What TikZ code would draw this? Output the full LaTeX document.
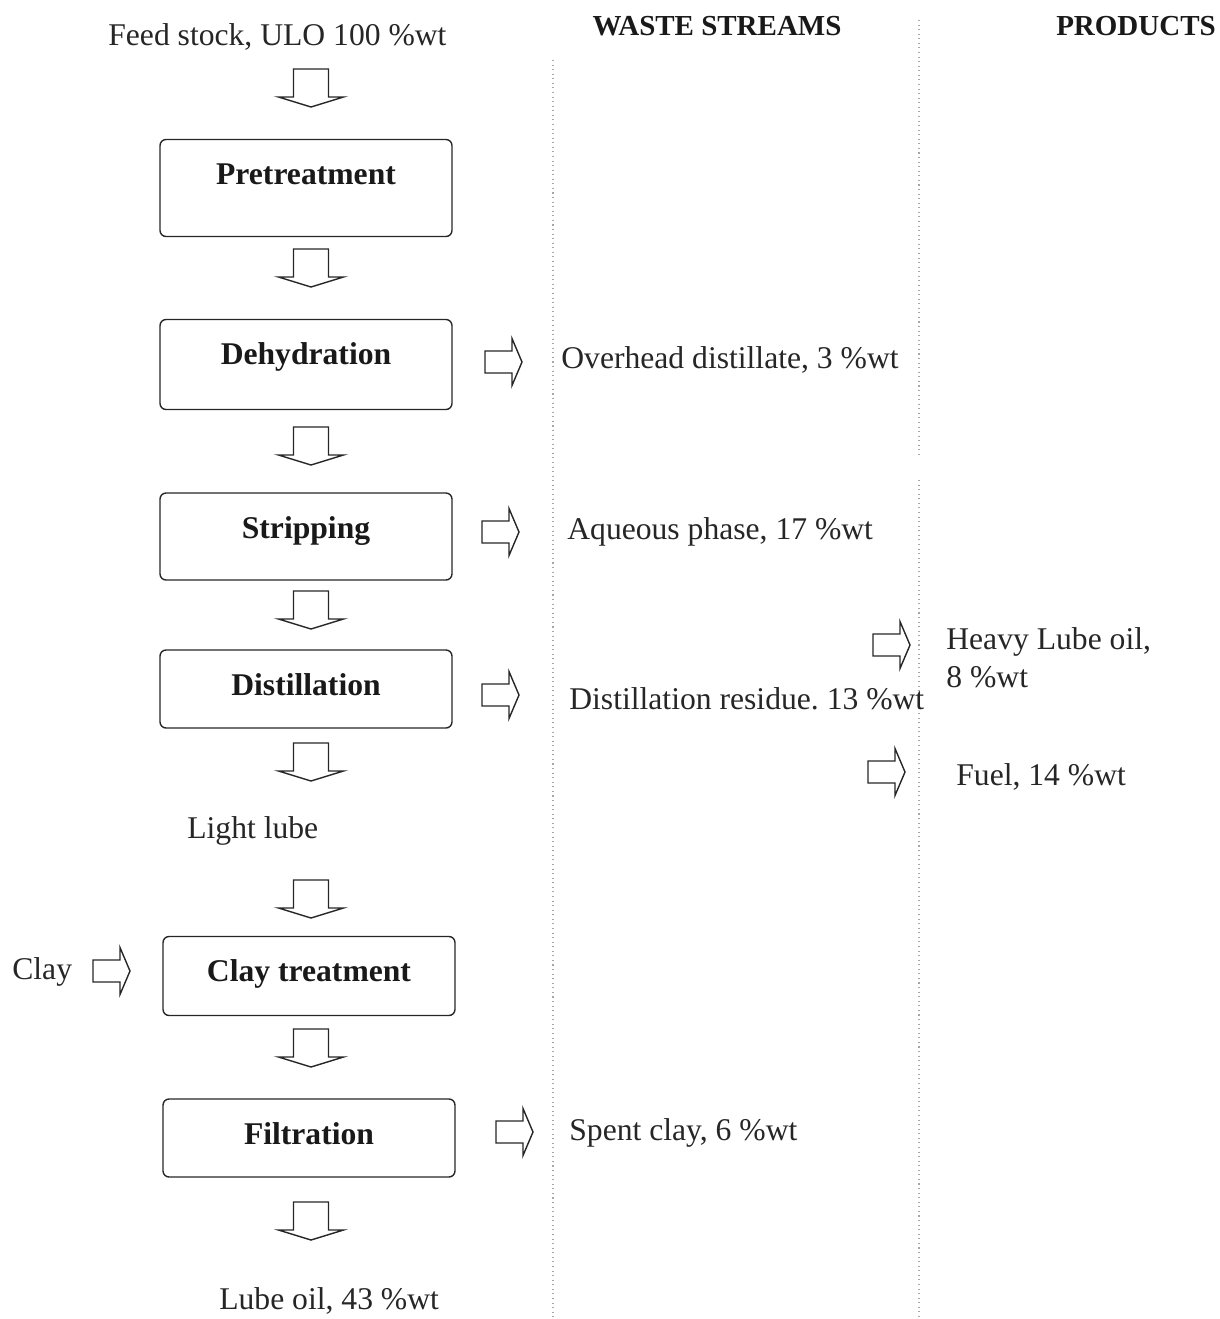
\documentclass[tikz,border=0pt]{standalone}
\usepackage{fontspec}
\setmainfont{Liberation Serif}
\tikzset{
    stage/.style =  {rectangle,
                    rounded corners=0.12cm,
                    draw=black!85,
                    text=black!90,
                    line width=0.8pt,
                    minimum width=5.84cm,
                    inner xsep=0pt,
                    inner ysep=0pt,
                    text height=0.90cm,
                    font=\fontsize{18}{21.6}\selectfont\bfseries},
    stream/.style = {anchor=west,
                    inner sep=0pt,
                    yshift=-0.04cm,
                    align=left,
                    text=black!85,
                    font=\fontsize{18}{21.6}\selectfont},
    header/.style = {inner sep=0pt,
                    text=black!90,
                    font=\fontsize{16.5}{20}\selectfont\bfseries},
    divider/.style = {draw=black!35,
                    dotted,
                    line width=0.6pt},
    downarrow/.pic = {\draw[line width=0.8pt,black!85]
                    (-17.5,0) -- (17.5,0) -- (17.5,28) -- (32.5,28) -- (0,38)
                    -- (-32.5,28) -- (-17.5,28) -- cycle;},
    rightarrow/.pic = {\draw[line width=0.8pt,black!85]
                    (0,-11) -- (27,-11) -- (27,-23.5) -- (37,0) -- (27,23.5)
                    -- (27,11) -- (0,11) -- cycle;}
}

\begin{document}
\begin{tikzpicture}[x=0.02cm,y=-0.02cm]
                \useasboundingbox (0,0) rectangle (1220,1319);

                \draw[divider] (553,60) -- (553,1319);
                \draw[divider] (919,20) -- (919,455);
                \draw[divider] (919,480) -- (919,1319);

                \node[header]       (waste)                                  at (717,26)   {WASTE STREAMS};
                \node[header]       (prod)                                   at (1136,26)  {PRODUCTS};

                \node[stream]       (feed)                                   at (108,35)   {Feed stock, ULO 100 \%wt};
                \node[stage, text depth=1.04cm] (pre)                        at (306,188)  {Pretreatment};
                \node[stage, text depth=0.90cm] (dehy)                       at (306,364.5) {Dehydration};
                \node[stage, text depth=0.84cm] (strip)                      at (306,536.5) {Stripping};
                \node[stage, text depth=0.66cm] (dist)                       at (306,689)  {Distillation};
                \node[stream]       (light)                                  at (187,829)  {Light lube};
                \node[stage, text depth=0.68cm] (claytr)                     at (309,976)  {Clay treatment};
                \node[stage, text depth=0.66cm] (filt)                       at (309,1138) {Filtration};
                \node[stream]       (lube)                                   at (219,1299) {Lube oil, 43 \%wt};

                \node[stream]       (clay)                                   at (12,970)   {Clay};
                \node[stream]       (over)                                   at (561,358)  {Overhead distillate, 3 \%wt};
                \node[stream]       (aq)                                     at (567,530)  {Aqueous phase, 17 \%wt};
                \node[stream]       (resid)                                  at (569,697)  {Distillation residue.\ 13 \%wt};
                \node[stream]       (spent)                                  at (569,1131) {Spent clay, 6 \%wt};
                \node[stream]       (heavy)                                  at (946,656)  {Heavy Lube oil,\\8 \%wt};
                \node[stream]       (fuel)                                   at (956,775)  {Fuel, 14 \%wt};

                \pic at (311,69)   {downarrow};
                \pic at (311,249)  {downarrow};
                \pic at (311,427)  {downarrow};
                \pic at (311,591)  {downarrow};
                \pic at (311,743)  {downarrow};
                \pic at (311,880)  {downarrow};
                \pic at (311,1029) {downarrow};
                \pic at (311,1202) {downarrow};

                \pic at (485,362)  {rightarrow};
                \pic at (482,532)  {rightarrow};
                \pic at (482,695)  {rightarrow};
                \pic at (496,1132) {rightarrow};
                \pic at (93,971)   {rightarrow};
                \pic at (873,645)  {rightarrow};
                \pic at (868,772)  {rightarrow};
        \end{tikzpicture}
\end{document}
